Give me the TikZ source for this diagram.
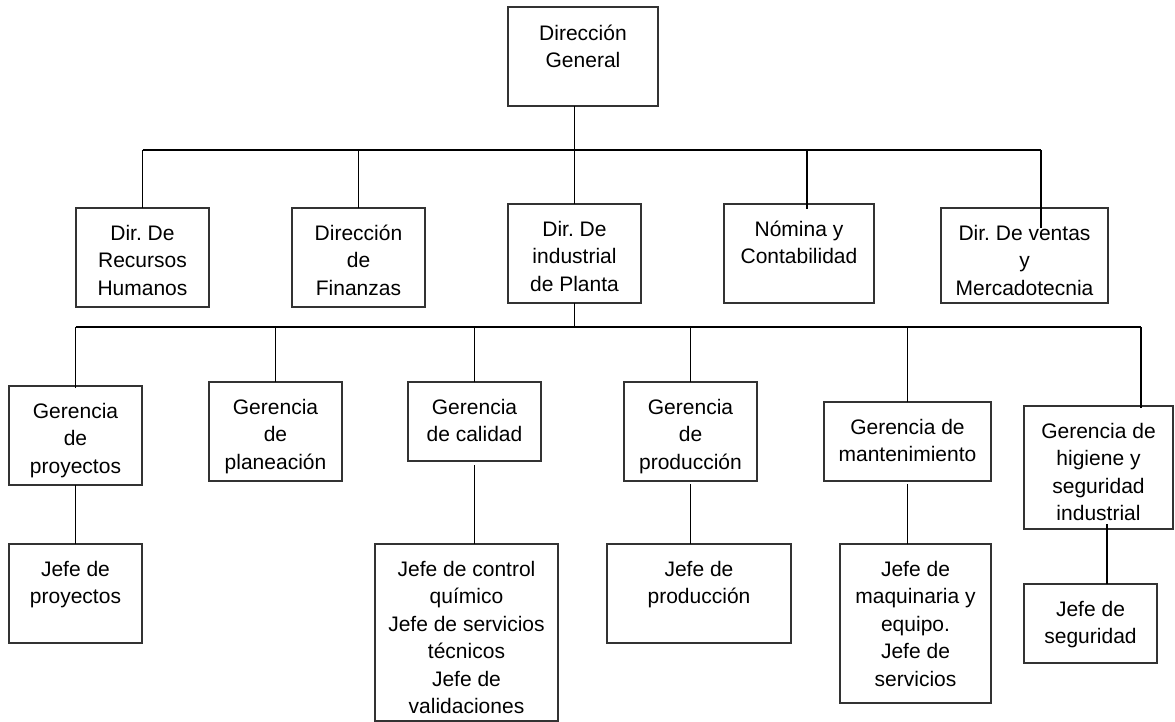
\documentclass[tikz,border=0pt]{standalone}
\usepackage{fontspec}
\setmainfont{Liberation Sans}
\newcommand\firstln{\rule{0pt}{22pt}}
\begin{document}
\begin{tikzpicture}[x=1pt,y=-1pt,
 bx/.style={draw=black!80, line width=1.3pt, inner sep=0pt, outer sep=0pt},
 tx/.style={anchor=north, inner sep=0pt, align=center, font=\fontsize{21}{27.5}\selectfont\frenchspacing},
 cn/.style={line width=1.9pt, black}]
\useasboundingbox[fill=white] (0,0) rectangle (1175,722);
% boxes
\node[bx, minimum width=150pt, minimum height=99pt] (dg) at (583,56.5) {};
\node[bx, minimum width=133pt, minimum height=99pt] (rh) at (142.5,257.5) {};
\node[bx, minimum width=133pt, minimum height=99pt] (fin) at (358.5,257.5) {};
\node[bx, minimum width=133pt, minimum height=99pt] (pla) at (574.5,253.5) {};
\node[bx, minimum width=150pt, minimum height=99pt] (nom) at (799,253.5) {};
\node[bx, minimum width=167pt, minimum height=95pt] (ven) at (1024.5,255.5) {};
\node[bx, minimum width=133pt, minimum height=99pt] (gpy) at (75.5,435.5) {};
\node[bx, minimum width=133pt, minimum height=99pt] (gpl) at (275.5,431.5) {};
\node[bx, minimum width=133pt, minimum height=79pt] (gca) at (474.5,421.5) {};
\node[bx, minimum width=133pt, minimum height=99pt] (gpr) at (690.5,431.5) {};
\node[bx, minimum width=167pt, minimum height=79pt] (gma) at (907.5,441.5) {};
\node[bx, minimum width=149pt, minimum height=123pt] (ghi) at (1098.5,467.5) {};
\node[bx, minimum width=133pt, minimum height=99pt] (jpy) at (75.5,593.5) {};
\node[bx, minimum width=183pt, minimum height=177pt] (jca) at (466.5,632.5) {};
\node[bx, minimum width=184pt, minimum height=99pt] (jpr) at (699,593.5) {};
\node[bx, minimum width=151pt, minimum height=159pt] (jma) at (915.5,623.5) {};
\node[bx, minimum width=133pt, minimum height=79pt] (jse) at (1090.5,623.5) {};
% texts
\node[tx] (dgt) at ([yshift=-11pt]dg.north) {\firstln Dirección\\General};
\node[tx] (rht) at ([yshift=-10pt]rh.north) {\firstln Dir. De\\Recursos\\Humanos};
\node[tx] (fint) at ([yshift=-10pt]fin.north) {\firstln Dirección\\de\\Finanzas};
\node[tx] (plat) at ([yshift=-10pt]pla.north) {\firstln Dir. De\\industrial\\de Planta};
\node[tx] (nomt) at ([yshift=-10pt]nom.north) {\firstln Nómina y\\Contabilidad};
\node[tx] (vent) at ([yshift=-10pt]ven.north) {\firstln Dir. De ventas\\y\\Mercadotecnia};
\node[tx] (gpyt) at ([yshift=-10pt]gpy.north) {\firstln Gerencia\\de\\proyectos};
\node[tx] (gplt) at ([yshift=-10pt]gpl.north) {\firstln Gerencia\\de\\planeación};
\node[tx] (gcat) at ([yshift=-10pt]gca.north) {\firstln Gerencia\\de calidad};
\node[tx] (gprt) at ([yshift=-10pt]gpr.north) {\firstln Gerencia\\de\\producción};
\node[tx] (gmat) at ([yshift=-10pt]gma.north) {\firstln Gerencia de\\mantenimiento};
\node[tx] (ghit) at ([yshift=-10pt]ghi.north) {\firstln Gerencia de\\higiene y\\seguridad\\industrial};
\node[tx] (jpyt) at ([yshift=-10pt]jpy.north) {\firstln Jefe de\\proyectos};
\node[tx] (jcat) at ([yshift=-10pt]jca.north) {\firstln Jefe de control\\químico\\Jefe de servicios\\técnicos\\Jefe de\\validaciones};
\node[tx] (jprt) at ([yshift=-10pt]jpr.north) {\firstln Jefe de\\producción};
\node[tx] (jmat) at ([yshift=-10pt]jma.north) {\firstln Jefe de\\maquinaria y\\equipo.\\Jefe de\\servicios};
\node[tx] (jset) at ([yshift=-10pt]jse.north) {\firstln Jefe de\\seguridad};
% helper coordinates
\coordinate (b1) at (0,150);
\coordinate (b2) at (0,327);
\coordinate (nomd) at (807,209);
\coordinate (vend) at (1041,228);
\coordinate (ghid) at (1141,408);
\coordinate (ghis) at (1107,524);
% connectors level 1-2
\draw[cn] (dg.south -| pla.north) -- (pla.north);
\draw[cn] (rh.north |- b1) -- (vend |- b1);
\draw[cn] (rh.north) -- (rh.north |- b1);
\draw[cn] (fin.north) -- (fin.north |- b1);
\draw[cn] (nomd) -- (nomd |- b1);
\draw[cn] (vend) -- (vend |- b1);
% connectors level 2-3
\draw[cn] (pla.south) -- (pla.south |- b2);
\draw[cn] (gpy.north |- b2) -- (ghid |- b2);
\draw[cn] ([yshift=-2pt]gpy.north) -- (gpy.north |- b2);
\draw[cn] (gpl.north) -- (gpl.north |- b2);
\draw[cn] (gca.north) -- (gca.north |- b2);
\draw[cn] (gpr.north) -- (gpr.north |- b2);
\draw[cn] (gma.north) -- (gma.north |- b2);
\draw[cn] (ghid) -- (ghid |- b2);
% connectors level 3-4
\draw[cn] (gpy.south) -- (jpy.north);
\draw[cn] ([yshift=-4pt]gca.south) -- (gca.south |- jca.north);
\draw[cn] ([yshift=-3pt]gpr.south) -- (gpr.south |- jpr.north);
\draw[cn] ([yshift=-3pt]gma.south) -- (gma.south |- jma.north);
\draw[cn] (ghis) -- (ghis |- jse.north);
\end{tikzpicture}
\end{document}
